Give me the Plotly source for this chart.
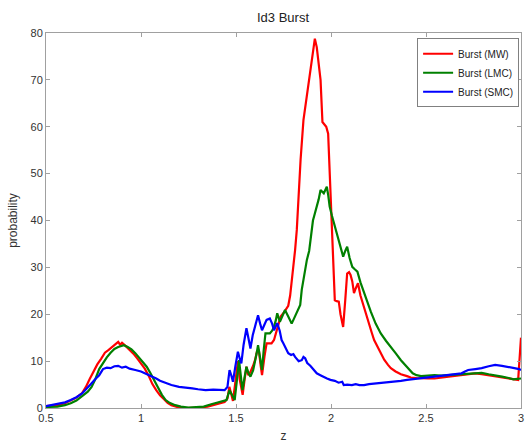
import plotly.graph_objects as go

title_text = "Id3 Burst"
x_label = "z"
y_label = "probability"
series_names = ["Burst (MW)", "Burst (LMC)", "Burst (SMC)"]
series_colors = ["#ff0000", "#008000", "#0000ff"]

z_mw = [0.50,0.53,0.56,0.60,0.63,0.66,0.69,0.71,0.73,0.75,0.77,0.79,0.81,0.83,0.85,0.87,0.88,0.89,0.90,0.92,
        0.94,0.96,0.98,1.00,1.02,1.04,1.06,1.08,1.10,1.12,1.14,1.16,1.18,1.20,1.23,1.26,1.29,1.32,1.35,1.38,
        1.41,1.44,1.455,1.465,1.475,1.484,1.495,1.51,1.52,1.535,1.545,1.555,1.565,1.576,1.59,1.60,1.61,1.62,1.63,1.637,
        1.65,1.661,1.675,1.687,1.70,1.71,1.722,1.735,1.749,1.76,1.775,1.785,1.793,1.80,1.811,1.82,1.83,1.84,1.855,1.87,
        1.882,1.895,1.905,1.915,1.925,1.935,1.945,1.955,1.965,1.975,1.985,1.995,2.005,2.012,2.02,2.03,2.041,2.05,2.064,2.075,
        2.085,2.095,2.103,2.112,2.121,2.13,2.142,2.155,2.17,2.183,2.20,2.215,2.227,2.245,2.262,2.28,2.30,2.315,2.34,2.368,
        2.40,2.42,2.45,2.474,2.51,2.545,2.58,2.616,2.65,2.687,2.72,2.758,2.793,2.83,2.864,2.90,2.935,2.96,2.985,3.0]
p_mw = [0.4,0.5,0.6,1.0,1.6,2.2,3.2,4.5,6.2,7.8,9.3,10.5,11.8,12.4,13.0,13.6,14.1,13.5,13.9,13.2,
        12.5,11.6,10.6,9.6,8.4,6.9,5.1,3.8,2.7,1.9,1.1,0.6,0.3,0.1,0.0,0.0,0.0,0.1,0.3,0.6,
        1.0,1.3,2.0,4.5,3.0,1.5,5.0,10.0,6.0,2.8,6.0,8.8,7.0,7.7,9.0,10.2,12.0,12.4,9.0,7.0,
        11.0,13.8,13.8,13.8,14.5,16.0,18.0,19.5,20.2,21.0,21.8,24.0,26.6,29.0,33.7,38.0,46.0,53.0,61.4,66.0,
        69.2,73.0,76.0,78.8,77.0,74.0,70.0,61.0,60.5,60.0,58.5,48.0,40.0,30.0,23.0,22.8,22.7,20.0,17.3,23.0,
        28.7,29.0,28.4,27.0,24.5,25.5,26.6,24.0,22.0,20.2,17.5,16.0,14.5,13.0,11.7,10.3,9.2,8.5,7.8,7.2,
        6.8,6.5,6.4,6.3,6.3,6.3,6.5,6.7,6.9,7.0,7.2,7.4,7.2,7.0,6.8,6.5,6.3,6.2,6.0,15.0]

z_lmc = [0.50,0.53,0.56,0.60,0.63,0.66,0.69,0.72,0.74,0.76,0.78,0.80,0.82,0.84,0.86,0.88,0.89,0.91,0.93,0.95,
         0.97,0.99,1.01,1.03,1.05,1.07,1.09,1.11,1.13,1.15,1.18,1.21,1.25,1.29,1.33,1.37,1.40,1.43,1.45,1.466,
         1.475,1.493,1.505,1.516,1.525,1.534,1.545,1.555,1.565,1.576,1.59,1.599,1.608,1.616,1.627,1.637,1.645,1.655,1.668,1.678,
         1.69,1.70,1.71,1.717,1.731,1.745,1.758,1.775,1.793,1.81,1.828,1.838,1.846,1.86,1.873,1.885,1.895,1.905,1.915,1.926,
         1.935,1.945,1.955,1.962,1.97,1.978,1.985,1.993,2.005,2.018,2.032,2.048,2.064,2.075,2.085,2.098,2.112,2.125,2.139,2.155,
         2.175,2.191,2.21,2.235,2.262,2.29,2.315,2.34,2.368,2.39,2.41,2.43,2.45,2.474,2.51,2.545,2.58,2.616,2.65,2.687,
         2.72,2.758,2.793,2.83,2.864,2.90,2.935,2.96,2.98,3.0]
p_lmc = [0.2,0.3,0.3,0.6,1.0,1.6,2.5,3.5,4.5,6.2,8.3,9.6,10.8,11.8,12.6,13.0,13.1,13.4,13.0,12.5,
         11.7,10.8,9.8,8.8,7.4,5.8,4.2,2.8,1.7,1.1,0.6,0.3,0.1,0.2,0.3,0.8,1.2,1.5,1.7,3.8,
         3.0,1.7,6.0,10.2,7.0,3.8,6.5,8.8,7.5,6.7,8.0,9.5,11.5,13.4,11.0,8.1,12.0,15.9,15.9,15.9,
         16.5,17.3,18.8,20.2,18.4,19.8,20.9,19.5,18.0,19.5,20.9,22.0,25.2,29.0,31.6,33.5,37.0,40.0,41.5,42.9,
         44.5,46.5,46.0,45.8,46.5,47.2,45.5,43.0,41.0,39.0,37.2,34.5,32.3,33.5,34.4,32.0,30.1,29.6,29.1,26.8,
         24.5,22.3,20.5,18.0,15.9,14.3,13.1,11.7,10.2,9.2,8.2,7.4,7.0,6.8,6.9,7.0,6.9,7.0,7.2,7.3,
         7.4,7.5,7.5,7.2,7.0,6.7,6.4,6.1,6.2,6.3]

z_smc = [0.50,0.53,0.56,0.60,0.63,0.66,0.69,0.72,0.74,0.76,0.78,0.80,0.82,0.84,0.86,0.88,0.90,0.92,0.94,0.97,
         1.00,1.02,1.05,1.08,1.10,1.13,1.16,1.20,1.23,1.27,1.30,1.34,1.38,1.41,1.44,1.455,1.466,1.475,1.484,1.497,
         1.51,1.52,1.528,1.54,1.555,1.565,1.576,1.588,1.599,1.608,1.616,1.627,1.637,1.65,1.661,1.678,1.69,1.70,1.708,1.717,
         1.73,1.74,1.749,1.76,1.775,1.79,1.802,1.811,1.83,1.846,1.855,1.864,1.875,1.891,1.908,1.925,1.944,1.96,1.979,1.997,
         2.02,2.04,2.059,2.067,2.085,2.11,2.13,2.15,2.174,2.20,2.23,2.262,2.30,2.33,2.368,2.40,2.44,2.474,2.51,2.545,
         2.58,2.616,2.65,2.687,2.705,2.722,2.76,2.793,2.83,2.864,2.90,2.935,2.965,2.99,3.0]
p_smc = [0.4,0.6,0.8,1.2,1.7,2.3,3.1,4.3,5.3,6.2,7.0,8.3,8.6,8.5,8.9,9.0,8.6,8.8,8.4,8.1,
         7.8,7.4,6.9,6.3,5.8,5.3,4.9,4.5,4.4,4.2,4.0,3.8,3.9,3.8,3.8,4.5,8.1,7.0,5.6,9.0,
         12.0,10.5,9.5,13.5,17.0,15.0,12.7,15.5,17.3,18.5,19.8,18.0,16.6,17.8,18.8,19.1,18.0,16.6,17.5,18.1,
         16.5,14.5,13.8,12.8,11.7,11.3,11.5,10.9,10.0,10.2,10.9,10.6,9.6,9.0,8.1,7.4,7.0,6.6,6.3,6.0,
         5.8,5.4,5.6,4.9,5.0,4.9,5.1,4.9,4.9,5.1,5.2,5.3,5.5,5.6,5.8,6.0,6.2,6.3,6.5,6.7,
         6.9,7.0,7.2,7.4,7.8,8.1,8.3,8.5,8.9,9.2,9.0,8.8,8.5,8.3,8.1]

x_ticks = [0.5, 1, 1.5, 2, 2.5, 3]
x_ticklabels = ["0.5", "1", "1.5", "2", "2.5", "3"]
y_ticks = [0, 10, 20, 30, 40, 50, 60, 70, 80]

fig = go.Figure()
for name, color, zs, ps in zip(series_names, series_colors,
                               [z_mw, z_lmc, z_smc], [p_mw, p_lmc, p_smc]):
    fig.add_trace(go.Scatter(x=zs, y=ps, mode="lines", name=name,
                             line=dict(color=color, width=2.2)))

font_family = "Liberation Sans, Arial, sans-serif"
axis_color = "#a0a0a0"
text_color = "#333333"

fig.update_layout(
    width=529, height=445,
    margin=dict(l=46, r=8, t=33, b=37),
    paper_bgcolor="white", plot_bgcolor="white",
    font=dict(family=font_family, size=11, color=text_color),
    title=dict(text=title_text, x=0.535, xanchor="center", y=0.96, yanchor="middle",
               font=dict(size=13, color="#222222")),
    showlegend=True,
    legend=dict(x=0.996, xanchor="right", y=0.986, yanchor="top",
                bgcolor="white", bordercolor="#808080", borderwidth=1,
                font=dict(size=10, color="#222222"),
                tracegroupgap=0, itemwidth=30),
)
fig.update_xaxes(range=[0.5, 3], tickvals=x_ticks, ticktext=x_ticklabels,
                 showgrid=False, zeroline=False, showline=True, linecolor=axis_color,
                 linewidth=1, mirror="ticks", ticks="inside", ticklen=4, tickcolor=axis_color,
                 automargin=False,
                 title=dict(text=x_label, standoff=8, font=dict(size=12)),
                 tickfont=dict(size=11))
fig.update_yaxes(range=[0, 80], tickvals=y_ticks,
                 showgrid=False, zeroline=False, showline=True, linecolor=axis_color,
                 linewidth=1, mirror="ticks", ticks="inside", ticklen=4, tickcolor=axis_color,
                 automargin=False,
                 title=dict(text=y_label, standoff=10, font=dict(size=12)),
                 tickfont=dict(size=11))

fig.write_html("out.html")
